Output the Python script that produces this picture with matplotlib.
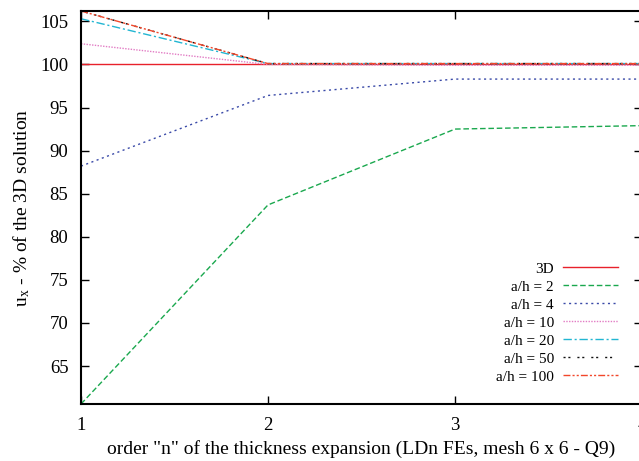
import matplotlib
matplotlib.use("Agg")
import matplotlib.pyplot as plt

plt.rcParams['font.family'] = ['Liberation Serif', 'DejaVu Serif']
plt.rcParams['mathtext.fontset'] = 'stix'

# expansion order n
orders = [1, 2, 3, 4]

# u_x as percentage of the 3D reference, per span-to-thickness ratio
ux_3d = [100.0, 100.0, 100.0, 100.0]
ux_ah2 = [60.6, 83.7, 92.5, 92.9]
ux_ah4 = [88.2, 96.4, 98.3, 98.3]
ux_ah10 = [102.4, 100.0, 99.9, 99.9]
ux_ah20 = [105.3, 100.1, 100.1, 100.1]
ux_ah50 = [106.2, 100.1, 100.1, 100.1]
ux_ah100 = [106.2, 100.1, 100.1, 100.1]

labels = ["3D", "a/h = 2", "a/h = 4", "a/h = 10", "a/h = 20", "a/h = 50", "a/h = 100"]
series = [ux_3d, ux_ah2, ux_ah4, ux_ah10, ux_ah20, ux_ah50, ux_ah100]
colors = ["#e8212b", "#1aa84e", "#3a4aa8", "#e27cc4", "#22b6d2", "#111111", "#f2472a"]
styles = ["-", (0, (4, 2)), (0, (1.5, 2.5)), (0, (1, 1)),
          (0, (6, 2, 1.5, 2)), (0, (1.5, 2, 1.5, 5)), (0, (5, 1.5, 1.5, 1.5, 1.5, 1.5))]

fig = plt.figure(figsize=(6.39, 4.61), dpi=100)
ax = fig.add_axes([81 / 639, 1 - 404 / 461, (642 - 81) / 639, (404 - 11) / 461])

for vals, lab, c, ls in zip(series, labels, colors, styles):
    ax.plot(orders, vals, color=c, linestyle=ls, linewidth=1.0, label=lab)

all_vals = [v for s in series for v in s]
ax.set_xlim(1, 4)
ax.set_ylim(min(all_vals), max(all_vals))
ax.set_xticks(orders)
ax.set_yticks(range(65, 106, 5))

ax.tick_params(direction='in', length=6, width=1, labelsize=13.5,
               top=True, right=True)
ax.tick_params(axis='x', pad=9)
ax.tick_params(axis='y', pad=9)
for sp in ax.spines.values():
    sp.set_linewidth(1.5)

ax.set_xlabel('order "n" of the thickness expansion (LDn FEs, mesh 6 x 6 - Q9)',
              fontsize=14, labelpad=5)
ax.set_ylabel(r'u$_\mathregular{x}$ - % of the 3D solution', fontsize=14, labelpad=6)

ax.legend(loc='upper right', bbox_to_anchor=(618 / 639, 1 - 262 / 461),
          bbox_transform=fig.transFigure, frameon=False, markerfirst=False,
          fontsize=11, handlelength=3.6, handletextpad=0.6, labelspacing=0.28,
          borderpad=0, borderaxespad=0)

fig.savefig("out.png", dpi=100)
